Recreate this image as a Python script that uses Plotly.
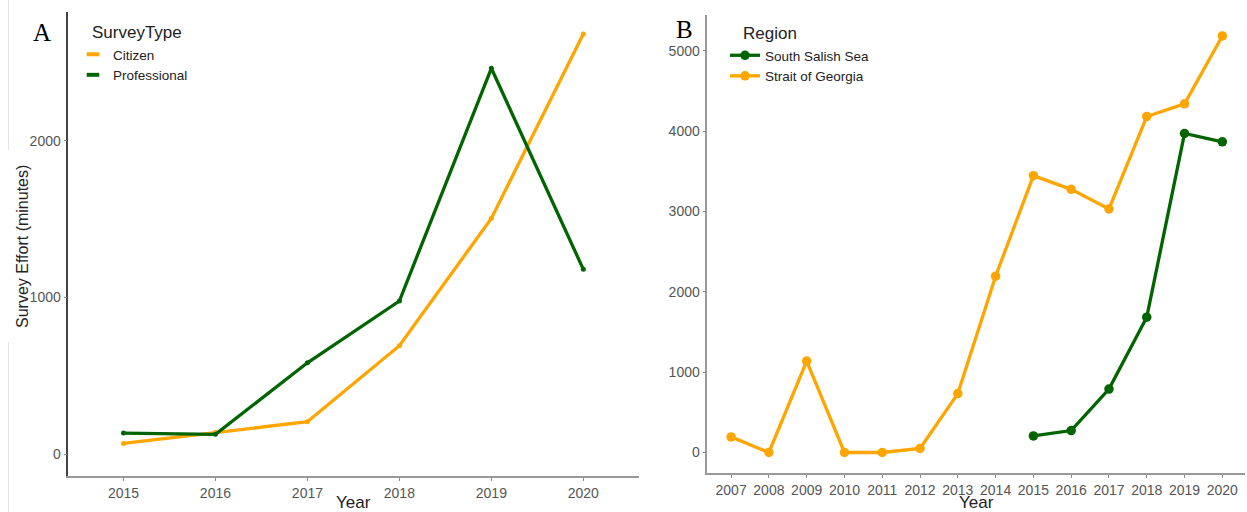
import plotly.graph_objects as go

# ---- Data ----
years_a = ["2015", "2016", "2017", "2018", "2019", "2020"]
citizen = [70, 140, 208, 693, 1505, 2681]
professional = [136, 128, 584, 978, 2462, 1180]

years_b = ["2007", "2008", "2009", "2010", "2011", "2012", "2013",
           "2014", "2015", "2016", "2017", "2018", "2019", "2020"]
strait_years = years_b
strait_georgia = [194, 0, 1138, 0, 0, 50, 733, 2194, 3445, 3275, 3031, 4181, 4339, 5184]
salish_years = ["2015", "2016", "2017", "2018", "2019", "2020"]
south_salish = [206, 273, 790, 1684, 3970, 3867]

ticks_a = [0, 1000, 2000]
ticks_b = [0, 1000, 2000, 3000, 4000, 5000]

ORANGE = "#FFA500"
GREEN = "#006400"
W, H = 1247, 512
SANS = "Liberation Sans, Arial, sans-serif"
SERIF = "Liberation Serif, Times New Roman, serif"
TICKC = "#555555"

fig = go.Figure()

# Panel A
fig.add_trace(go.Scatter(x=years_a, y=citizen, mode="lines+markers", name="Citizen",
                         line=dict(color=ORANGE, width=3.3), marker=dict(color=ORANGE, size=5),
                         xaxis="x", yaxis="y", showlegend=False))
fig.add_trace(go.Scatter(x=years_a, y=professional, mode="lines+markers", name="Professional",
                         line=dict(color=GREEN, width=3.3), marker=dict(color=GREEN, size=5),
                         xaxis="x", yaxis="y", showlegend=False))
# legend keys A
for nm, col in [("Citizen", ORANGE), ("Professional", GREEN)]:
    fig.add_trace(go.Scatter(x=[None], y=[None], mode="markers", name=nm,
                             marker=dict(symbol="line-ew", size=9, color=col,
                                         line=dict(color=col, width=4)),
                             xaxis="x", yaxis="y", legend="legend"))

# Panel B
fig.add_trace(go.Scatter(x=salish_years, y=south_salish, mode="lines+markers", name="South Salish Sea",
                         line=dict(color=GREEN, width=3.3), marker=dict(color=GREEN, size=9.5),
                         xaxis="x2", yaxis="y2", legend="legend2"))
fig.add_trace(go.Scatter(x=strait_years, y=strait_georgia, mode="lines+markers", name="Strait of Georgia",
                         line=dict(color=ORANGE, width=3.3), marker=dict(color=ORANGE, size=9.5),
                         xaxis="x2", yaxis="y2", legend="legend2"))

def px(x):
    return x / W

def py(y):
    return 1 - y / H

axis_common = dict(showgrid=False, zeroline=False, ticks="outside", ticklen=3,
                   tickcolor="#888888", tickwidth=1,
                   tickfont=dict(family=SANS, size=14, color=TICKC), showline=True)

fig.update_layout(
    width=W, height=H,
    margin=dict(l=0, r=0, t=0, b=0),
    paper_bgcolor="white", plot_bgcolor="white",
    xaxis=dict(domain=[px(68.3), px(638.5)], anchor="y", type="category",
               categoryorder="array", categoryarray=years_a,
               range=[-0.6, 5.6], linecolor="#999999", linewidth=1.5, **axis_common),
    yaxis=dict(domain=[py(476), py(11.7)], anchor="x", range=[-138, 2823],
               tickvals=ticks_a, linecolor="#444444", linewidth=1.5, **axis_common),
    xaxis2=dict(domain=[px(707.3), px(1245)], anchor="y2", type="category",
                categoryorder="array", categoryarray=years_b,
                range=[-0.63, 13.6], linecolor="#999999", linewidth=1.5, **axis_common),
    yaxis2=dict(domain=[py(473.3), py(15)], anchor="x2", range=[-259, 5445],
                tickvals=ticks_b, linecolor="#999999", linewidth=1.5, **axis_common),
    legend=dict(x=px(73), y=py(39), xanchor="left", yanchor="top",
                font=dict(family=SANS, size=13.5, color="#222222"),
                bgcolor="rgba(0,0,0,0)", itemwidth=30, tracegroupgap=0),
    legend2=dict(x=px(725), y=py(40), xanchor="left", yanchor="top",
                 font=dict(family=SANS, size=13.5, color="#222222"),
                 bgcolor="rgba(0,0,0,0)", itemwidth=30, tracegroupgap=0),
)

ann = [
    dict(text="A", x=px(42), y=py(32), font=dict(family=SERIF, size=25, color="black")),
    dict(text="B", x=px(684), y=py(29), font=dict(family=SERIF, size=25, color="black")),
    dict(text="SurveyType", x=px(90), y=py(32), xanchor="left",
         font=dict(family=SANS, size=17, color="#222222")),
    dict(text="Region", x=px(740.7), y=py(33), xanchor="left",
         font=dict(family=SANS, size=17, color="#222222")),
    dict(text="Survey Effort (minutes)", x=px(22), y=py(247), textangle=-90,
         font=dict(family=SANS, size=16, color="#222222")),
    dict(text="Year", x=px(353), y=py(502), font=dict(family=SANS, size=17, color="#222222")),
    dict(text="Year", x=px(976), y=py(502), font=dict(family=SANS, size=17, color="#222222")),
]
for a in ann:
    a.update(xref="paper", yref="paper", showarrow=False)
    a.setdefault("xanchor", "center")
    a.setdefault("yanchor", "middle")
fig.update_layout(annotations=ann)

# faint crop artefact lines at far left
fig.update_layout(shapes=[
    dict(type="line", xref="paper", yref="paper", x0=px(8.5), x1=px(8.5), y0=py(0), y1=py(150),
         line=dict(color="#e3e3e3", width=1)),
    dict(type="line", xref="paper", yref="paper", x0=px(8.5), x1=px(8.5), y0=py(342), y1=py(512),
         line=dict(color="#e3e3e3", width=1)),
])

fig.write_html("out.html", config={"displayModeBar": False},
               post_script="document.body.style.margin='0';document.body.style.overflow='hidden';")
